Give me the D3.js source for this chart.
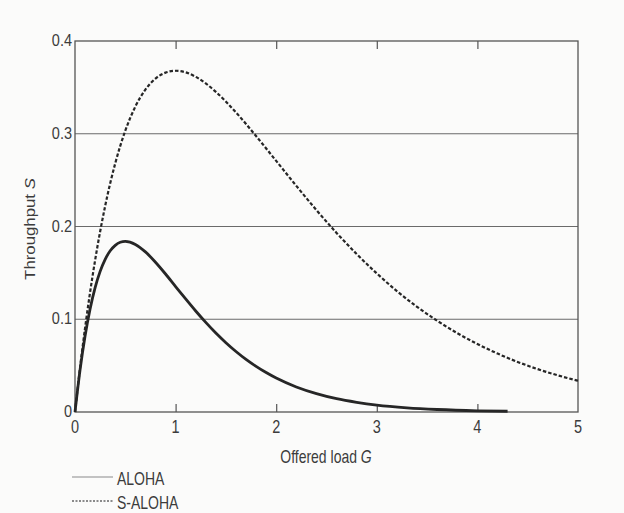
<!DOCTYPE html>
<html><head><meta charset="utf-8">
<script src="https://cdn.jsdelivr.net/npm/d3@7"></script>
<style>body{margin:0;background:#fbfbfa;}svg{display:block;}</style>
</head><body>
<svg id="c" width="624" height="513"></svg>
<script>
const alohaG = [0,0.05,0.1,0.15,0.2,0.25,0.3,0.35,0.4,0.45,0.5,0.6,0.7,0.8,0.9,1.0,1.1,1.2,1.3,1.4,1.5,1.6,1.7,1.8,1.9,2.0,2.2,2.4,2.6,2.8,3.0,3.3,3.6,4.0,4.3];
const alohaS = [0,0.0452,0.0819,0.1111,0.1341,0.1516,0.1646,0.1738,0.1797,0.1830,0.1839,0.1807,0.1726,0.1615,0.1488,0.1353,0.1219,0.1089,0.0966,0.0851,0.0747,0.0652,0.0567,0.0492,0.0425,0.0366,0.0270,0.0198,0.0143,0.0104,0.0074,0.0045,0.0027,0.0013,0.0008];
const slottedG = [0,0.05,0.1,0.15,0.2,0.3,0.4,0.5,0.6,0.7,0.8,0.9,1.0,1.1,1.2,1.4,1.6,1.8,2.0,2.2,2.4,2.6,2.8,3.0,3.2,3.4,3.6,3.8,4.0,4.2,4.4,4.6,4.8,5.0];
const slottedS = [0,0.0476,0.0905,0.1291,0.1637,0.2222,0.2681,0.3033,0.3293,0.3476,0.3595,0.3659,0.3679,0.3662,0.3614,0.3452,0.3230,0.2975,0.2707,0.2438,0.2177,0.1931,0.1703,0.1494,0.1304,0.1134,0.0984,0.0850,0.0733,0.0630,0.0540,0.0462,0.0395,0.0337];
const xTicks = [0,1,2,3,4,5];
const yTicks = [0,0.1,0.2,0.3,0.4];
const yTickLabels = ["0","0.1","0.2","0.3","0.4"];
const seriesNames = ["ALOHA","S-ALOHA"];

const svg = d3.select("#c");
const L=75, R=578, T=41, B=412;
const x = d3.scaleLinear().domain([0,5]).range([L,R]);
const y = d3.scaleLinear().domain([0,0.4]).range([B,T]);
const txt = "#3c3c3c", ln="#555";
const font = "Liberation Sans, Arial, sans-serif";

// gridlines
svg.append("g").selectAll("line").data(yTicks.slice(1,4)).join("line")
  .attr("x1",L).attr("x2",R).attr("y1",d=>y(d)).attr("y2",d=>y(d))
  .attr("stroke","#6a6a6a").attr("stroke-width",1.1);

// frame
svg.append("rect").attr("x",L).attr("y",T).attr("width",R-L).attr("height",B-T)
  .attr("fill","none").attr("stroke",ln).attr("stroke-width",1.3);

// bottom ticks
const xb = svg.append("g").attr("transform",`translate(0,${B})`)
  .call(d3.axisBottom(x).tickValues([1,2,3,4]).tickSize(-8).tickFormat(""));
xb.select(".domain").remove();
xb.selectAll("line").attr("stroke",ln).attr("stroke-width",1.2);
// bottom labels
svg.append("g").selectAll("text").data(xTicks).join("text")
  .attr("transform",d=>`translate(${x(d)},${B+21}) scale(1,1.22)`)
  .attr("text-anchor","middle").attr("font-family",font).attr("font-size",14.5).attr("fill",txt)
  .text(d=>d3.format("d")(d));

// top ticks
const xt = svg.append("g").attr("transform",`translate(0,${T})`)
  .call(d3.axisTop(x).tickValues([1,2,3,4]).tickSize(-8).tickFormat(""));
xt.select(".domain").remove();
xt.selectAll("line").attr("stroke",ln).attr("stroke-width",1.2);

// left labels
svg.append("g").selectAll("text").data(yTicks).join("text")
  .attr("transform",d=>`translate(${L-3},${y(d)+5}) scale(1,1.15)`)
  .attr("text-anchor","end").attr("font-family",font).attr("font-size",14.5).attr("fill",txt)
  .text((d,i)=>yTickLabels[i]);

// curves
const line = d3.line().x(d=>x(d[0])).y(d=>y(d[1])).curve(d3.curveMonotoneX);
svg.append("path").datum(alohaG.map((g,i)=>[g,alohaS[i]]))
  .attr("d",line).attr("fill","none").attr("stroke","#262626").attr("stroke-width",2.8);
svg.append("path").datum(slottedG.map((g,i)=>[g,slottedS[i]]))
  .attr("d",line).attr("fill","none").attr("stroke","#262626").attr("stroke-width",2.2)
  .attr("stroke-dasharray","3.5,2");

// axis titles
const yt = svg.append("text").attr("transform","translate(35,229) scale(1,1.2) rotate(-90)")
  .attr("text-anchor","middle").attr("font-family",font).attr("font-size",14).attr("fill",txt);
yt.append("tspan").text("Throughput ");
yt.append("tspan").attr("font-style","italic").text("S");

const xtl = svg.append("text").attr("transform","translate(326,463) scale(1,1.3)")
  .attr("text-anchor","middle").attr("font-family",font).attr("font-size",14).attr("fill",txt);
xtl.append("tspan").text("Offered load ");
xtl.append("tspan").attr("font-style","italic").text("G");

// legend
const leg = svg.append("g");
const legY = [477,501];
seriesNames.forEach((n,i)=>{
  leg.append("line").attr("x1",72).attr("x2",113).attr("y1",legY[i]).attr("y2",legY[i])
    .attr("stroke", i===0?"#8a8a8a":"#666").attr("stroke-width",i===0?1.2:1.4)
    .attr("stroke-dasharray", i===0?null:"2,1.5");
  leg.append("text").attr("transform",`translate(117,${legY[i]+8}) scale(1,1.3)`)
    .attr("font-family",font).attr("font-size",14).attr("fill",txt).text(n);
});
</script>
</body></html>
